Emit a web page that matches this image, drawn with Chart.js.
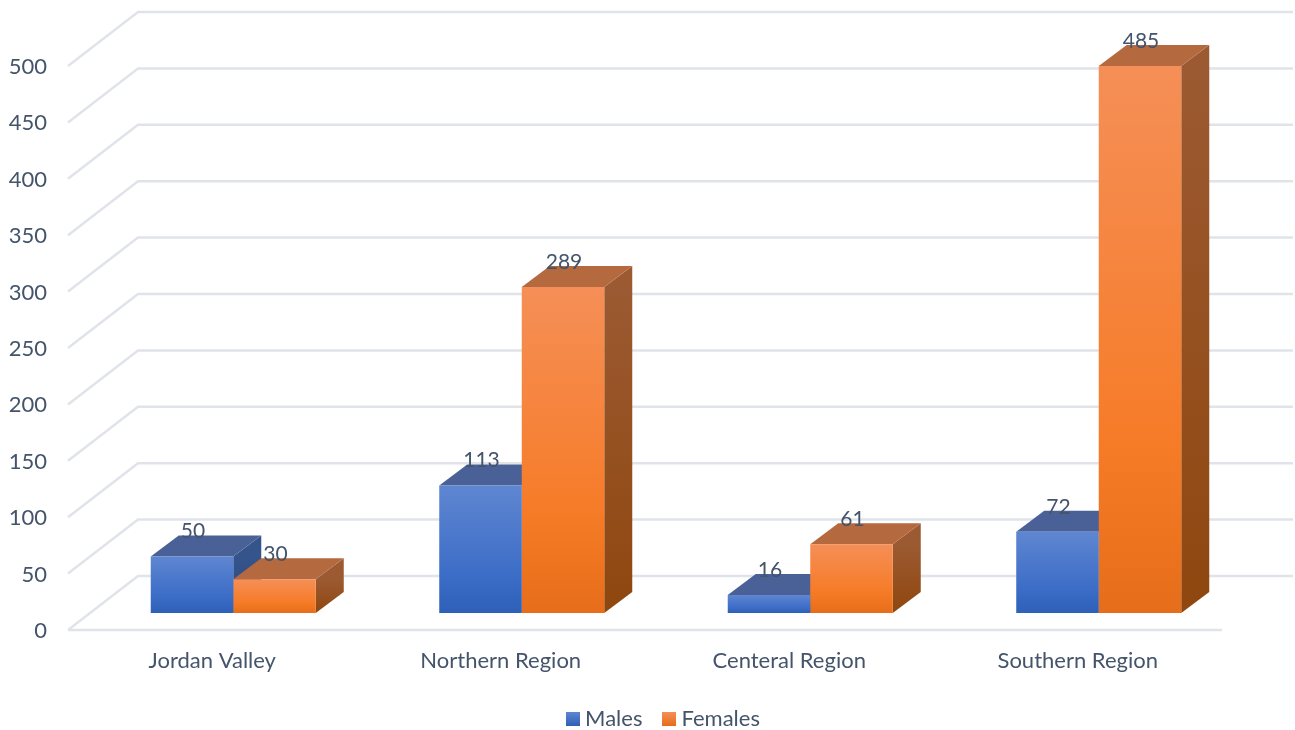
<!DOCTYPE html>
<html>
<head>
<meta charset="utf-8">
<title>Regions chart</title>
<script src="https://cdn.jsdelivr.net/npm/chart.js@4"></script>
<style>
  html, body { margin: 0; padding: 0; background: #fff; }
  canvas { display: block; }
</style>
</head>
<body>
<canvas id="regionChart" width="1295" height="730"></canvas>
<script>
// chart values
const categories = ['Jordan Valley', 'Northern Region', 'Centeral Region', 'Southern Region'];
const males = [50, 113, 16, 72];
const females = [30, 289, 61, 485];
const yTicks = [0, 50, 100, 150, 200, 250, 300, 350, 400, 450, 500];

const textColor = '#44546a';
const gridColor = '#e0e4ea';
const fontFamily = 'Lato, "Open Sans", sans-serif';

// colours for the fake 3D faces of each series
const blue = { stops: ['#5f86d1', '#3c6dc7', '#2e60b8'], top: '#4a6198', side: ['#35548c', '#2b4a7e'] };
const orange = { stops: ['#f58f57', '#f67b27', '#e66d19'], top: '#b5693f', side: ['#9c5a32', '#8f470f'] };

// how far the floor and walls sit from the plane of the bar fronts
const front = { x: -21, y: 17 };
const back = { x: 49, y: -37 };
const depth = { x: 28, y: -21 };

function frontGradient(c, look) {
    const y = c.chart.scales.y;
    if (c.type !== 'data' || !y) return look.stops[1];
    const g = c.chart.ctx.createLinearGradient(0, y.getPixelForValue(c.raw), 0, y.getPixelForValue(0));
    g.addColorStop(0, look.stops[0]);
    g.addColorStop(0.7, look.stops[1]);
    g.addColorStop(1, look.stops[2]);
    return g;
}

// Legend swatch as a small canvas, used as the point style so the text can sit close to it.
function makeSwatch(look) {
    const swatch = document.createElement('canvas');
    swatch.width = 14;
    swatch.height = 14;
    const sctx = swatch.getContext('2d');
    const g = sctx.createLinearGradient(0, 0, 0, 14);
    g.addColorStop(0, look.stops[0]);
    g.addColorStop(1, look.stops[2]);
    sctx.fillStyle = g;
    sctx.fillRect(0, 0, 14, 14);
    return swatch;
}

// Floor, back wall and the side + top faces of the bars go under the real bars.
const box3d = {
    id: 'box3d',
    beforeDatasetsDraw(chart) {
        const { ctx, chartArea, scales: { y } } = chart;
        ctx.save();
        ctx.strokeStyle = gridColor;
        ctx.lineWidth = 2.5;
        yTicks.forEach(v => {
            const p = y.getPixelForValue(v);
            ctx.beginPath();
            ctx.moveTo(chartArea.left + front.x, p + front.y);
            ctx.lineTo(chartArea.left + back.x, p + back.y);
            ctx.lineTo(chartArea.right + back.x + 1, p + back.y);
            ctx.stroke();
        });
        const floor = y.getPixelForValue(0) + front.y;
        ctx.beginPath();
        ctx.moveTo(chartArea.left + front.x, floor);
        ctx.lineTo(chartArea.right + front.x, floor);
        ctx.stroke();

        [blue, orange].forEach((look, i) => {
            chart.getDatasetMeta(i).data.forEach(bar => {
                const right = bar.x + bar.width / 2;
                const left = bar.x - bar.width / 2;
                const g = ctx.createLinearGradient(0, bar.y, 0, bar.base);
                g.addColorStop(0, look.side[0]);
                g.addColorStop(1, look.side[1]);
                ctx.fillStyle = g;
                ctx.beginPath();
                ctx.moveTo(right, bar.y);
                ctx.lineTo(right + depth.x, bar.y + depth.y);
                ctx.lineTo(right + depth.x, bar.base + depth.y);
                ctx.lineTo(right, bar.base);
                ctx.closePath();
                ctx.fill();
                ctx.fillStyle = look.top;
                ctx.beginPath();
                ctx.moveTo(left, bar.y);
                ctx.lineTo(left + depth.x, bar.y + depth.y);
                ctx.lineTo(right + depth.x, bar.y + depth.y);
                ctx.lineTo(right, bar.y);
                ctx.closePath();
                ctx.fill();
            });
        });
        ctx.restore();
    },
    // value labels sit over the top faces
    afterDatasetsDraw(chart) {
        const { ctx } = chart;
        ctx.save();
        ctx.font = '21px ' + fontFamily;
        ctx.fillStyle = textColor;
        ctx.textAlign = 'center';
        ctx.textBaseline = 'middle';
        chart.data.datasets.forEach((ds, i) => {
            chart.getDatasetMeta(i).data.forEach((bar, j) => {
                ctx.fillText(ds.data[j], bar.x + 1, bar.y - 25);
            });
        });
        ctx.restore();
    }
};

new Chart(document.getElementById('regionChart'), {
    type: 'bar',
    data: {
        labels: categories,
        datasets: [
            { label: 'Males', data: males, backgroundColor: c => frontGradient(c, blue) },
            { label: 'Females', data: females, backgroundColor: c => frontGradient(c, orange) }
        ]
    },
    options: {
        responsive: false,
        animation: false,
        barPercentage: 1,
        categoryPercentage: 0.572,
        layout: { padding: { left: 0, right: 52, top: 49, bottom: -10 } },
        scales: {
            x: {
                afterFit(scale) { scale.height = 69; },
                grid: { display: false },
                border: { display: false },
                ticks: {
                    color: textColor,
                    font: { family: fontFamily, size: 22 },
                    labelOffset: front.x,
                    padding: 27,
                    autoSkip: false,
                    maxRotation: 0
                }
            },
            y: {
                min: 0,
                max: 500,
                afterFit(scale) {
                    scale.width = 89;
                    scale.paddingTop = 0;
                    scale.paddingBottom = 0;
                },
                afterBuildTicks(scale) { scale.ticks = yTicks.map(v => ({ value: v })); },
                grid: { display: false },
                border: { display: false },
                ticks: {
                    color: textColor,
                    font: { family: fontFamily, size: 22 },
                    labelOffset: front.y + 1,
                    padding: 34
                }
            }
        },
        plugins: {
            tooltip: { enabled: false },
            legend: {
                position: 'bottom',
                fullSize: false,
                labels: {
                    color: textColor,
                    font: { family: fontFamily, size: 22 },
                    usePointStyle: true,
                    boxWidth: 2,
                    boxHeight: 14,
                    padding: 26,
                    generateLabels: chart => [blue, orange].map((look, i) => ({
                        text: chart.data.datasets[i].label,
                        pointStyle: makeSwatch(look),
                        fontColor: textColor,
                        datasetIndex: i
                    }))
                }
            }
        }
    },
    plugins: [box3d]
});
</script>
</body>
</html>
